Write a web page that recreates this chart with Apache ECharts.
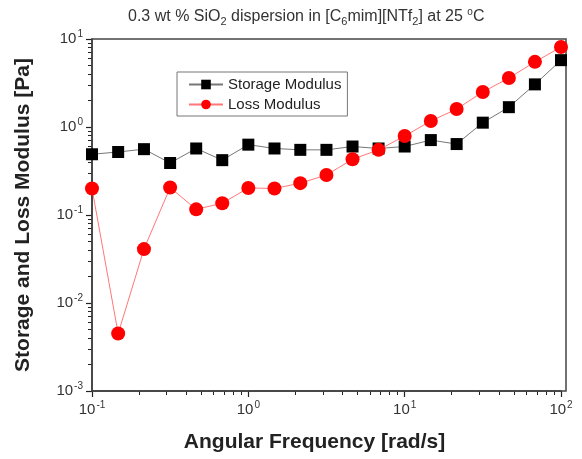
<!DOCTYPE html>
<html><head><meta charset="utf-8">
<script src="https://cdn.jsdelivr.net/npm/echarts@6/dist/echarts.min.js"></script>
<style>html,body{margin:0;padding:0;background:#fff}#c{width:582px;height:459px}</style>
</head><body><div id="c"></div>
<script>
// Angular frequency [rad/s]
const freq = [0.1, 0.147, 0.215, 0.316, 0.464, 0.681, 1, 1.47, 2.15, 3.16, 4.64, 6.81, 10, 14.7, 21.5, 31.6, 46.4, 68.1, 100];
// Storage modulus G' [Pa]
const storage = [0.49, 0.52, 0.56, 0.39, 0.57, 0.42, 0.63, 0.57, 0.55, 0.55, 0.6, 0.57, 0.6, 0.71, 0.64, 1.12, 1.68, 3.05, 5.75];
// Loss modulus G'' [Pa]
const loss = [0.2, 0.0045, 0.041, 0.205, 0.116, 0.136, 0.203, 0.2, 0.23, 0.285, 0.43, 0.55, 0.79, 1.17, 1.6, 2.5, 3.6, 5.5, 8.1];
const seriesNames = ['Storage Modulus', 'Loss Modulus'];
const xTitle = 'Angular Frequency [rad/s]';
const yTitle = 'Storage and Loss Modulus [Pa]';

function minorLogTicks(lo, hi) {
  const out = [];
  for (let e = lo; e < hi; e++) for (let m = 2; m <= 9; m++) out.push(e + Math.log10(m));
  return out;
}
const pow10 = v => { const e = Math.round(Math.log10(v)); return '{b|10}{s|' + e + '}'; };
const F = 'Liberation Sans';
const labRich = {
  b: {fontSize: 15, color: '#333', fontFamily: F},
  s: {fontSize: 10, color: '#333', fontFamily: F, padding: [0, 0, 10, 1]}
};
const chart = echarts.init(document.getElementById('c'), null, {renderer: 'canvas'});
chart.setOption({
  animation: false,
  backgroundColor: '#fff',
  title: {
    text: '0.3 wt % SiO{sub|2} dispersion in [C{sub|6}mim][NTf{sub|2}] at 25 {sup|o}C',
    left: 123, top: 2,
    textStyle: {
      fontSize: 16, fontWeight: 'normal', color: '#333', fontFamily: F,
      rich: {
        sub: {fontSize: 11, color: '#333', fontFamily: F, padding: [9, 0, 0, 0]},
        sup: {fontSize: 10, color: '#333', fontFamily: F, padding: [0, 0, 9, 0]}
      }
    }
  },
  legend: {
    left: 177, top: 72, orient: 'vertical',
    data: seriesNames,
    itemWidth: 34, itemHeight: 12, itemGap: 5,
    padding: [5, 6, 4, 11],
    borderColor: '#777', borderWidth: 1,
    textStyle: {fontSize: 15, color: '#222', fontFamily: F}
  },
  grid: {left: 92, top: 39, right: 21, bottom: 68, outerBoundsMode: 'none', containLabel: false},
  graphic: [{
    type: 'rect', shape: {x: 92, y: 39, width: 474, height: 352},
    style: {fill: 'none', stroke: '#444', lineWidth: 1.5}, z: 1, silent: true
  }],
  xAxis: [{
    type: 'log', logBase: 10, min: 0.1, max: 100,
    name: xTitle, nameLocation: 'middle', nameGap: 41,
    nameTextStyle: {fontSize: 21, fontWeight: 'bold', color: '#222', fontFamily: F, padding: [0, 24, 0, 0]},
    axisLine: {onZero: false, lineStyle: {color: '#222', width: 1.5}},
    axisTick: {length: 6, lineStyle: {color: '#222', width: 1.2}},
    axisLabel: {margin: 9, formatter: pow10, rich: labRich},
    splitLine: {show: false}
  }, {
    type: 'value', min: -1, max: 2, position: 'bottom', gridIndex: 0,
    axisLine: {show: false, onZero: false}, axisLabel: {show: false}, splitLine: {show: false},
    axisTick: {show: true, length: 4, customValues: minorLogTicks(-1, 2), lineStyle: {color: '#222', width: 1}}
  }],
  yAxis: [{
    type: 'log', logBase: 10, min: 0.001, max: 10,
    name: yTitle, nameLocation: 'middle', nameGap: 58,
    nameTextStyle: {fontSize: 21, fontWeight: 'bold', color: '#222', fontFamily: F},
    axisLine: {onZero: false, lineStyle: {color: '#222', width: 1.5}},
    axisTick: {length: 6, lineStyle: {color: '#222', width: 1.2}},
    axisLabel: {margin: 9, formatter: pow10, rich: labRich},
    splitLine: {show: false}
  }, {
    type: 'value', min: -3, max: 1, position: 'left', gridIndex: 0,
    axisLine: {show: false, onZero: false}, axisLabel: {show: false}, splitLine: {show: false},
    axisTick: {show: true, length: 4, customValues: minorLogTicks(-3, 1), lineStyle: {color: '#222', width: 1}}
  }],
  series: [{
    name: seriesNames[0], type: 'line', xAxisIndex: 0, yAxisIndex: 0,
    data: freq.map((f, i) => [f, storage[i]]),
    symbol: 'rect', symbolSize: 12,
    itemStyle: {color: '#000'},
    lineStyle: {color: '#777', width: 1},
    z: 3
  }, {
    name: seriesNames[1], type: 'line', xAxisIndex: 0, yAxisIndex: 0,
    data: freq.map((f, i) => [f, loss[i]]),
    symbol: 'circle', symbolSize: 14,
    itemStyle: {color: '#ff0000'},
    lineStyle: {color: '#ff7777', width: 1},
    z: 4
  }]
});
</script></body></html>
